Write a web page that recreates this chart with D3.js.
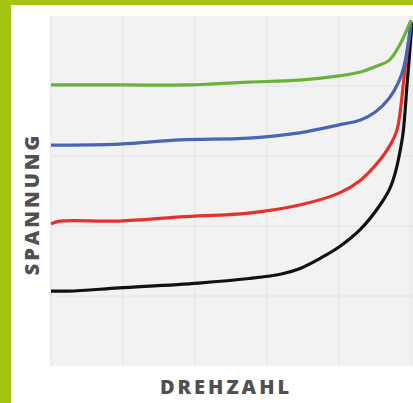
<!DOCTYPE html>
<html lang="en">
<head>
<meta charset="utf-8">
<title>Spannung / Drehzahl</title>
<script src="https://cdnjs.cloudflare.com/ajax/libs/d3/7.8.5/d3.min.js"></script>
<style>
  body { margin: 0; background: #fff; }
  svg { display: block; }
</style>
</head>
<body>
<svg id="chart" width="413" height="403"></svg>
<script>
// values, x = Drehzahl (0..100), y = Spannung (0..100)
var greenX = [0, 20, 38, 45, 55, 69, 80, 86, 90, 94, 97, 100];
var greenY = [80.3, 80.3, 80.3, 80.6, 81.1, 81.7, 82.9, 84, 85.5, 87.4, 92, 98.8];

var blueX = [0, 19, 36, 55, 69, 80, 86, 90, 94, 96.5, 98, 100];
var blueY = [63.1, 63.4, 64.6, 65.1, 66.6, 68.9, 70.3, 72.5, 76.6, 81, 85.4, 97.5];

var redX = [0, 2.5, 19, 36, 55, 69, 80, 86, 91.4, 94.2, 96.1, 98.3, 100];
var redY = [40.6, 41.4, 41.4, 42.6, 43.7, 46, 49.4, 53.1, 58.9, 63.1, 67.4, 84.6, 98.3];

var blackX = [0, 5, 19, 41, 55, 64, 69, 75, 80, 86, 91.4, 94.2, 95.6, 96.7, 97.8, 98.9, 100.3];
var blackY = [21.4, 21.4, 22.3, 23.7, 25.0, 26.3, 27.8, 30.9, 34.0, 39.1, 46.0, 50.9, 55.1, 60.0, 66.6, 80.3, 98.3];

var gridTicks = [0, 20, 40, 60, 80, 100];

var svg = d3.select("#chart");

// green frame on the left and top
svg.append("rect").attr("x", 0).attr("y", 0).attr("width", 11).attr("height", 403).attr("fill", "#a3c412");
svg.append("rect").attr("x", 0).attr("y", 0).attr("width", 413).attr("height", 5).attr("fill", "#a3c412");

var x = d3.scaleLinear().domain([0, 100]).range([51, 411]);
var y = d3.scaleLinear().domain([0, 100]).range([366, 16]);

// plot background
svg.append("rect")
  .attr("x", 50).attr("y", 16)
  .attr("width", 363).attr("height", 350)
  .attr("fill", "#f2f2f2");

// grid
svg.selectAll(".vgrid").data(gridTicks).enter().append("line")
  .attr("x1", function(d){ return x(d); }).attr("x2", function(d){ return x(d); })
  .attr("y1", 16).attr("y2", 366)
  .attr("stroke", "#e8e8e8").attr("stroke-width", 1.5);
svg.selectAll(".hgrid").data(gridTicks.slice(1, 5)).enter().append("line")
  .attr("x1", 50).attr("x2", 413)
  .attr("y1", function(d){ return y(d); }).attr("y2", function(d){ return y(d); })
  .attr("stroke", "#e8e8e8").attr("stroke-width", 1.5);

var series = [
  { xs: blackX, ys: blackY, color: "#111111" },
  { xs: redX, ys: redY, color: "#e8302a" },
  { xs: blueX, ys: blueY, color: "#4866b4" },
  { xs: greenX, ys: greenY, color: "#68b23a" }
];

var line = d3.line()
  .x(function(d){ return x(d[0]); })
  .y(function(d){ return y(d[1]); })
  .curve(d3.curveCatmullRom.alpha(0.5));

series.forEach(function(s) {
  var pts = s.xs.map(function(v, i){ return [v, s.ys[i]]; });
  svg.append("path")
    .attr("d", line(pts))
    .attr("fill", "none")
    .attr("stroke", s.color)
    .attr("stroke-width", 3.2)
    .attr("stroke-linejoin", "round");
});

// axis titles
svg.append("text")
  .attr("x", 226).attr("y", 394)
  .attr("text-anchor", "middle")
  .attr("font-family", "Open Sans")
  .attr("font-weight", 800)
  .attr("font-size", 20)
  .attr("letter-spacing", 3)
  .attr("fill", "#505050")
  .text("DREHZAHL");

svg.append("text")
  .attr("transform", "translate(39,204) rotate(-90)")
  .attr("text-anchor", "middle")
  .attr("font-family", "Open Sans")
  .attr("font-weight", 800)
  .attr("font-size", 20)
  .attr("letter-spacing", 3)
  .attr("fill", "#505050")
  .text("SPANNUNG");
</script>
</body>
</html>
